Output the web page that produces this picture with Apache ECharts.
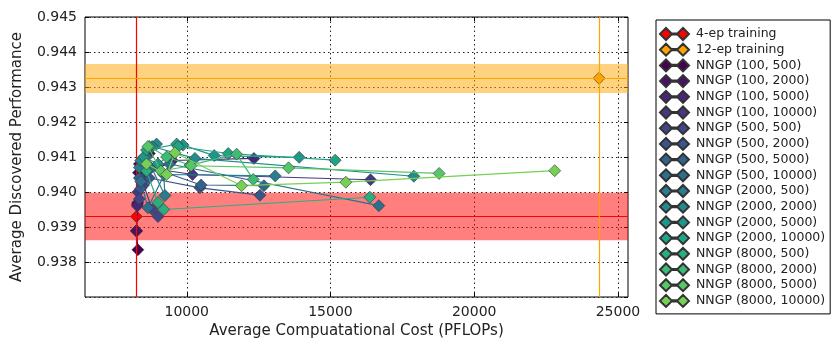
<!DOCTYPE html>
<html>
<head>
<meta charset="utf-8">
<script src="https://cdn.jsdelivr.net/npm/echarts@6/dist/echarts.min.js"></script>
<style>
html, body { margin: 0; padding: 0; background: #fff; }
#chart { width: 840px; height: 349px; }
</style>
</head>
<body>
<div id="chart"></div>
<script>
// baselines: [cost, performance], band = [low, high]
var fourEp = [8248, 0.9393];
var fourEpBand = [0.93862, 0.93998];
var twelveEp = [24343, 0.94325];
var twelveEpBand = [0.94283, 0.94366];

var xTicks = [10000, 15000, 20000, 25000];

var nngpNames = [
	'NNGP (100, 500)', 'NNGP (100, 2000)', 'NNGP (100, 5000)', 'NNGP (100, 10000)',
	'NNGP (500, 500)', 'NNGP (500, 2000)', 'NNGP (500, 5000)', 'NNGP (500, 10000)',
	'NNGP (2000, 500)', 'NNGP (2000, 2000)', 'NNGP (2000, 5000)', 'NNGP (2000, 10000)',
	'NNGP (8000, 500)', 'NNGP (8000, 2000)', 'NNGP (8000, 5000)', 'NNGP (8000, 10000)'
];

// viridis-like colours, one per NNGP run
var nngpColors = [
	'#440154', '#471365', '#482677', '#453781',
	'#404688', '#39558c', '#33638d', '#2d708e',
	'#287d8e', '#238a8d', '#1f968b', '#20a386',
	'#29af7f', '#3dbc74', '#56c667', '#75d054'
];

var nngpData = [
	[[8300, 0.93835], [8250, 0.93888], [8280, 0.93965], [8320, 0.94055]],
	[[8250, 0.93890], [8300, 0.93970], [8350, 0.94080], [8700, 0.94110]],
	[[8280, 0.93960], [8450, 0.94040], [9500, 0.94090], [12336, 0.94096]],
	[[8300, 0.94000], [8600, 0.94070], [10200, 0.94050], [16393, 0.94035]],
	[[8350, 0.93980], [8500, 0.94020], [8800, 0.93950], [9000, 0.93930]],
	[[8400, 0.94010], [8700, 0.94040], [10459, 0.94012], [12545, 0.93991]],
	[[8350, 0.94040], [8750, 0.94070], [10500, 0.94020], [12684, 0.94018]],
	[[8400, 0.94030], [8650, 0.93955], [9400, 0.94080], [16682, 0.93961]],
	[[8350, 0.94070], [8600, 0.94100], [9240, 0.93990], [9200, 0.94050], [13077, 0.94046]],
	[[8400, 0.94090], [8950, 0.94137], [8800, 0.94130], [10285, 0.94096], [17899, 0.94045]],
	[[8500, 0.94100], [9000, 0.94080], [9870, 0.94134], [10956, 0.94104], [13911, 0.94099]],
	[[8600, 0.94120], [9650, 0.94137], [9700, 0.94130], [11443, 0.94110], [15163, 0.94091]],
	[[8600, 0.94060], [9000, 0.93970], [9200, 0.93950], [16370, 0.93985]],
	[[8700, 0.94130], [9300, 0.94100], [10110, 0.94077], [11734, 0.94108], [12312, 0.94036]],
	[[8650, 0.94130], [9100, 0.94060], [10146, 0.94075], [13542, 0.94069], [18780, 0.94053]],
	[[8600, 0.94080], [9300, 0.94050], [9590, 0.94112], [11905, 0.94018], [15535, 0.94028], [22802, 0.94061]]
];

var fontName = 'DejaVu Sans';
var legendIcon = 'path://M0,6 L6,0 L12,6 L6,12 Z M12,5.4 L17,5.4 L17,6.6 L12,6.6 Z M17,6 L23,0 L29,6 L23,12 Z';
var gridDash = { color: '#222', type: [1.5, 3], width: 1 };

var baseSeries = function(name, point, band, color, bandColor) {
	return {
		name: name,
		type: 'line',
		data: [point],
		symbol: 'diamond',
		symbolSize: 12,
		z: 1,
		itemStyle: { color: color, borderColor: '#333', borderWidth: 0.6 },
		lineStyle: { color: color, width: 1 },
		markLine: {
			silent: true,
			symbol: 'none',
			precision: 6,
			label: { show: false },
			lineStyle: { color: color, width: 1.2, type: 'solid' },
			data: [{ yAxis: point[1] }, { xAxis: point[0] }]
		},
		markArea: {
			silent: true,
			itemStyle: { color: bandColor, borderWidth: 0 },
			data: [[{ yAxis: band[0] }, { yAxis: band[1] }]]
		}
	};
};

var seriesList = [
	baseSeries('4-ep training', fourEp, fourEpBand, '#ff0000', 'rgba(255,0,0,0.5)'),
	baseSeries('12-ep training', twelveEp, twelveEpBand, '#ffa500', 'rgba(255,165,0,0.5)')
];
for (var i = 0; i < nngpNames.length; i++) {
	seriesList.push({
		name: nngpNames[i],
		type: 'line',
		data: nngpData[i],
		symbol: 'diamond',
		symbolSize: 12,
		z: 3 + i,
		itemStyle: { color: nngpColors[i], borderColor: '#333', borderWidth: 0.6 },
		lineStyle: { color: nngpColors[i], width: 1.2 }
	});
}

var chart = echarts.init(document.getElementById('chart'));
var option = {
	animation: false,
	textStyle: { fontFamily: fontName },
	grid: {
		left: 85, right: 212, top: 17, bottom: 52,
		show: true, borderColor: '#000', borderWidth: 1
	},
	legend: {
		orient: 'vertical',
		left: 656, top: 20, height: 322,
		padding: [7, 5, 6, 3],
		itemWidth: 29, itemHeight: 12, itemGap: 1.7,
		borderColor: '#000', borderWidth: 1,
		backgroundColor: '#fff',
		icon: legendIcon,
		textStyle: { fontSize: 12.5, color: '#222', fontFamily: fontName, padding: [0, 0, 0, 2] },
		data: ['4-ep training', '12-ep training'].concat(nngpNames)
	},
	xAxis: [{
		type: 'value',
		min: 6460, max: 25350,
		name: 'Average Compuatational Cost (PFLOPs)',
		nameLocation: 'middle', nameGap: 26,
		nameTextStyle: { fontSize: 15, color: '#222' },
		axisLine: { show: false },
		axisTick: { show: true, inside: true, length: 4, customValues: xTicks, lineStyle: { color: '#000' } },
		axisLabel: {
			fontSize: 14, color: '#222', margin: 8, customValues: xTicks,
			formatter: function(v) { return String(v); }
		},
		splitLine: { show: true, lineStyle: gridDash }
	}, {
		type: 'value',
		position: 'top',
		min: 6460, max: 25350,
		axisLine: { show: false },
		axisTick: { show: true, inside: true, length: 4, customValues: xTicks, lineStyle: { color: '#000' } },
		axisLabel: { show: false },
		splitLine: { show: false }
	}],
	yAxis: [{
		type: 'value',
		min: 0.937, max: 0.945, interval: 0.001,
		name: 'Average Discovered Performance',
		nameLocation: 'middle', nameGap: 60,
		nameTextStyle: { fontSize: 15, color: '#222' },
		axisLine: { show: false },
		axisTick: { show: true, inside: true, length: 4, lineStyle: { color: '#000' } },
		axisLabel: {
			fontSize: 14, color: '#222', margin: 8, showMinLabel: false,
			formatter: function(v) { return v.toFixed(3); }
		},
		splitLine: { show: true, lineStyle: gridDash }
	}, {
		type: 'value',
		position: 'right',
		min: 0.937, max: 0.945, interval: 0.001,
		axisLine: { show: false },
		axisTick: { show: true, inside: true, length: 4, lineStyle: { color: '#000' } },
		axisLabel: { show: false },
		splitLine: { show: false }
	}],
	series: seriesList
};
chart.setOption(option);
</script>
</body>
</html>
